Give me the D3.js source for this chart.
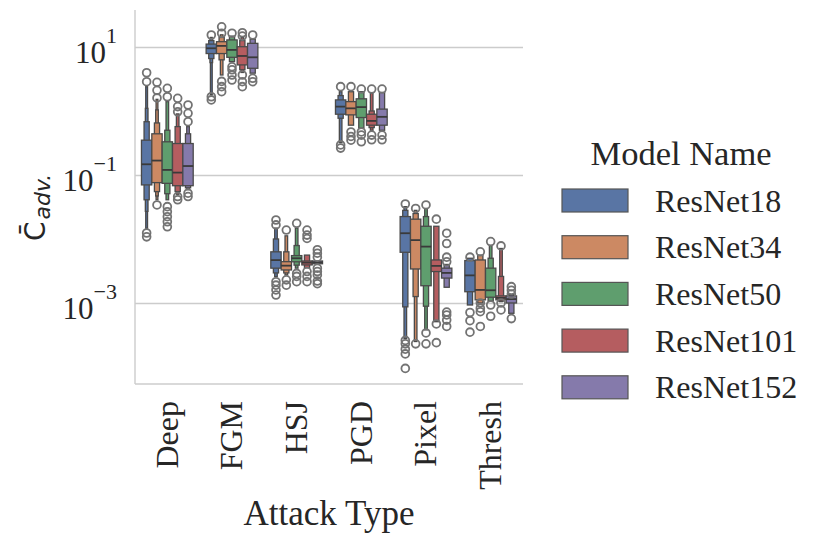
<!DOCTYPE html>
<html>
<head>
<meta charset="utf-8">
<script src="https://cdn.jsdelivr.net/npm/d3@7"></script>
<style>
  body { margin: 0; background: #fff; }
  text { fill: #262626; }
</style>
</head>
<body>
<div id="vis"></div>
<script>
// categories
var attacks = ["Deep", "FGM", "HSJ", "PGD", "Pixel", "Thresh"];
var models = ["ResNet18", "ResNet34", "ResNet50", "ResNet101", "ResNet152"];
var colors = ["#5975a4", "#cc8963", "#5f9e6e", "#b55d60", "#857aab"];

// y ticks (log scale)
var yTicks = [10, 0.1, 0.001];
var yTickExp = ["1", "\u22121", "\u22123"];

// medians [attack][model]
var medians = [
  [0.147, 0.168, 0.12, 0.109, 0.138],
  [9.55, 10.4, 9.0, 7.24, 6.9],
  [0.00468, 0.00383, 0.0050, 0.00427, 0.0043],
  [1.17, 1.10, 1.15, 0.70, 0.81],
  [0.0123, 0.0096, 0.0076, 0.0038, 0.00295],
  [0.0027, 0.0016, 0.00158, 0.0012, 0.00115]
];

// letter value boxes [attack][model] -> [[lo, hi], ...] inner to outer
var levels = [
  [
    [[0.070, 0.35], [0.041, 0.68], [0.027, 1.10], [0.0147, 2.4]],
    [[0.076, 0.44], [0.055, 0.65], [0.047, 1.04], [0.041, 1.52]],
    [[0.074, 0.33], [0.051, 0.50], [0.041, 1.4]],
    [[0.068, 0.31], [0.055, 0.57], [0.05, 0.9]],
    [[0.068, 0.31], [0.063, 0.44], [0.059, 0.57]]
  ],
  [
    [[7.9, 11.1], [6.6, 12.6], [5.7, 13.6], [1.8, 14.1]],
    [[7.9, 12.1], [6.3, 14.1], [3.65, 15.5]],
    [[6.9, 12.9], [5.9, 14.8]],
    [[5.25, 10.1], [4.4, 12.6], [4.0, 14.0]],
    [[4.65, 11.4], [3.9, 13.2]]
  ],
  [
    [[0.0035, 0.0063], [0.00295, 0.010], [0.00258, 0.0148]],
    [[0.00328, 0.00442], [0.00295, 0.0063], [0.00275, 0.0112]],
    [[0.0044, 0.0055], [0.0039, 0.0079], [0.0035, 0.0148]],
    [[0.00393, 0.00453], [0.00355, 0.0056]],
    [[0.0041, 0.00453]]
  ],
  [
    [[0.89, 1.49], [0.77, 1.74], [0.32, 2.0]],
    [[0.87, 1.40], [0.60, 2.0]],
    [[0.79, 1.55], [0.54, 2.0]],
    [[0.60, 0.89], [0.55, 1.0], [0.50, 1.9]],
    [[0.60, 1.07], [0.50, 1.95]]
  ],
  [
    [[0.0062, 0.0224], [0.00087, 0.028], [0.00028, 0.032]],
    [[0.0034, 0.0204], [0.00126, 0.025], [0.00025, 0.028]],
    [[0.00186, 0.0158], [0.00089, 0.0224], [0.00038, 0.030]],
    [[0.0031, 0.0047], [0.00051, 0.0158]],
    [[0.00245, 0.0035], [0.00176, 0.0040]]
  ],
  [
    [[0.0015, 0.0046], [0.00093, 0.0050]],
    [[0.00112, 0.0047], [0.0010, 0.0056]],
    [[0.00123, 0.0035], [0.00107, 0.0050], [0.00107, 0.0079]],
    [[0.00112, 0.00129], [0.00107, 0.0026], [0.00105, 0.0071]],
    [[0.0010, 0.00129], [0.00069, 0.00135]]
  ]
];

// outliers [attack][model]
var outliers = [
  [
    [3.96, 2.87, 0.0124, 0.0108],
    [2.8, 2.1, 1.6, 0.034],
    [2.26, 1.67, 0.032, 0.0267, 0.0223, 0.0186, 0.0155],
    [1.58, 1.17, 0.97, 0.046, 0.041],
    [1.24, 0.92, 0.68, 0.052, 0.046]
  ],
  [
    [15.4, 1.67, 1.49],
    [20.7, 16.4, 2.9, 2.4, 2.0],
    [16.4, 4.9, 4.4, 3.65, 3.05],
    [16.7, 14.8, 3.65, 2.87, 2.4],
    [15.4, 3.24, 2.87]
  ],
  [
    [0.0198, 0.0166, 0.00215, 0.0019, 0.0016, 0.00133],
    [0.0138, 0.0023, 0.0019],
    [0.0176, 0.0029, 0.0026, 0.00215],
    [0.0138, 0.0115, 0.0102, 0.0031, 0.0026, 0.00215],
    [0.0068, 0.006, 0.0052, 0.0035, 0.0031, 0.00274, 0.0022, 0.002]
  ],
  [
    [2.4, 0.295, 0.263],
    [2.4, 0.47, 0.40, 0.35],
    [2.2, 0.47, 0.42, 0.33],
    [2.2, 0.42, 0.355],
    [2.2, 0.42, 0.355]
  ],
  [
    [0.0352, 0.00026, 0.00023, 0.00019, 0.00016, 0.000095],
    [0.030, 0.00023],
    [0.034, 0.00034, 0.00023],
    [0.0204, 0.00047, 0.00024],
    [0.0123, 0.0085, 0.0052, 0.0044, 0.00072, 0.00065, 0.00054, 0.00043]
  ],
  [
    [0.0052, 0.00071, 0.00053, 0.00035],
    [0.0063, 0.0010, 0.00083, 0.00073, 0.00043],
    [0.0091, 0.00093, 0.00062],
    [0.0078, 0.0010, 0.00078],
    [0.0018, 0.00158, 0.00138, 0.00057]
  ]
];

var width = 830, height = 545;
var plot = {left: 135, right: 523, top: 10, bottom: 384};
var serif = "'Liberation Serif', 'Times New Roman', serif";
var gridColor = "#cccccc";
var edgeColor = "#4a4a4a";

var svg = d3.select("#vis").append("svg")
  .attr("width", width)
  .attr("height", height);

var x = d3.scaleBand()
  .domain(attacks)
  .range([plot.left, plot.right]);

var xHue = d3.scaleBand()
  .domain(models)
  .range([x.step() * 0.1, x.step() * 0.9]);

var y = d3.scaleLog()
  .domain([Math.pow(10, -4.266), Math.pow(10, 1.578)])
  .range([plot.bottom, plot.top]);

// horizontal grid
var grid = svg.append("g")
  .attr("transform", "translate(" + plot.left + ",0)")
  .call(d3.axisLeft(y).tickValues(yTicks).tickSize(-(plot.right - plot.left)).tickFormat(function() { return ""; }));
grid.select(".domain").remove();
grid.selectAll(".tick line").attr("stroke", gridColor).attr("stroke-width", 1.4);

// y tick labels: 10 with superscript exponent
grid.selectAll(".tick text").remove();
grid.selectAll(".tick").each(function(d, i) {
  var t = d3.select(this).append("text")
    .attr("x", -18)
    .attr("y", 15.5)
    .attr("text-anchor", "end")
    .style("font-family", serif)
    .style("font-size", "31px");
  t.append("tspan").text("10");
  t.append("tspan").attr("dy", -20).style("font-size", "22px").text(yTickExp[i]);
});

// spines
svg.append("line")
  .attr("x1", plot.left).attr("x2", plot.left)
  .attr("y1", plot.top).attr("y2", plot.bottom)
  .attr("stroke", gridColor).attr("stroke-width", 1.4);
svg.append("line")
  .attr("x1", plot.left).attr("x2", plot.right)
  .attr("y1", plot.bottom).attr("y2", plot.bottom)
  .attr("stroke", gridColor).attr("stroke-width", 1.4);

// x axis labels
var xAxis = svg.append("g")
  .attr("transform", "translate(0," + plot.bottom + ")")
  .call(d3.axisBottom(x).tickSize(0));
xAxis.select(".domain").remove();
xAxis.selectAll(".tick text")
  .attr("transform", "rotate(-90)")
  .attr("x", -17)
  .attr("y", 0)
  .attr("dy", "0.32em")
  .attr("text-anchor", "end")
  .style("font-family", serif)
  .style("font-size", "32px")
  .style("fill", "#262626");

// boxen plots
var boxW = xHue.bandwidth();
attacks.forEach(function(a, ai) {
  models.forEach(function(m, mi) {
    var cx = x(a) + xHue(m) + boxW / 2;
    var g = svg.append("g");
    var lv = levels[ai][mi].slice().reverse();
    var n = levels[ai][mi].length;
    g.selectAll("rect")
      .data(lv)
      .enter().append("rect")
      .attr("x", function(d, i) { var w = Math.max(1.8, boxW * Math.pow(0.5, n - 1 - i)); return cx - w / 2; })
      .attr("width", function(d, i) { return Math.max(1.8, boxW * Math.pow(0.5, n - 1 - i)); })
      .attr("y", function(d) { return y(d[1]); })
      .attr("height", function(d) { return y(d[0]) - y(d[1]); })
      .attr("fill", colors[mi])
      .attr("stroke", edgeColor)
      .attr("stroke-width", 1.3);
    g.append("line")
      .attr("x1", cx - boxW / 2).attr("x2", cx + boxW / 2)
      .attr("y1", y(medians[ai][mi])).attr("y2", y(medians[ai][mi]))
      .attr("stroke", "#3a3a3a")
      .attr("stroke-width", 1.8);
    g.selectAll("circle")
      .data(outliers[ai][mi])
      .enter().append("circle")
      .attr("cx", cx)
      .attr("cy", function(d) { return y(d); })
      .attr("r", 3.9)
      .attr("fill", "none")
      .attr("stroke", "#737373")
      .attr("stroke-width", 1.8);
  });
});

// axis titles
svg.append("text")
  .attr("x", (plot.left + plot.right) / 2)
  .attr("y", 525)
  .attr("text-anchor", "middle")
  .style("font-family", serif)
  .style("font-size", "35px")
  .text("Attack Type");

var ylab = svg.append("text")
  .attr("transform", "translate(45,241) rotate(-90)")
  .style("font-family", "'DejaVu Sans', sans-serif")
  .style("font-size", "28px");
ylab.append("tspan").text("C\u0304");
ylab.append("tspan")
  .attr("dy", 5)
  .attr("dx", 2)
  .style("font-style", "italic")
  .style("font-size", "22px")
  .text("adv.");

// legend
var legend = svg.append("g");
legend.append("text")
  .attr("x", 681)
  .attr("y", 165)
  .attr("text-anchor", "middle")
  .style("font-family", serif)
  .style("font-size", "34.5px")
  .text("Model Name");

var items = legend.selectAll(".item")
  .data(models)
  .enter().append("g")
  .attr("class", "item")
  .attr("transform", function(d, i) { return "translate(0," + (200.5 + i * 46.7) + ")"; });
items.append("rect")
  .attr("x", 562)
  .attr("y", -11.5)
  .attr("width", 66)
  .attr("height", 23)
  .attr("fill", function(d, i) { return colors[i]; })
  .attr("stroke", "#555")
  .attr("stroke-width", 1.2);
items.append("text")
  .attr("x", 655)
  .attr("y", 11)
  .style("font-family", serif)
  .style("font-size", "32px")
  .text(function(d) { return d; });
</script>
</body>
</html>
